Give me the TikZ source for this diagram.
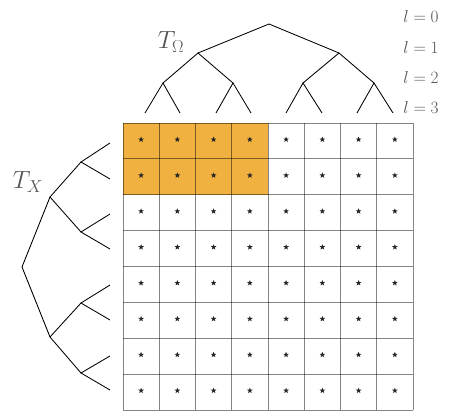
\documentclass[tikz,border=0pt]{standalone}
\usepackage{xcolor}
\usetikzlibrary{shapes.geometric}
\definecolor{gridorange}{RGB}{240,177,64}
\definecolor{labelgray}{RGB}{85,85,85}
\begin{document}
\begin{tikzpicture}[x=1pt,y=-1pt,
  tree/.style={line width=0.85pt, black},
  gridline/.style={line width=0.9pt, draw=black, draw opacity=0.48},
  starnode/.style={star, star points=5, star point ratio=2.4, fill=black!85, draw=none, inner sep=0pt, minimum size=6pt},
  biglbl/.style={text=labelgray, inner sep=0pt, font=\fontsize{24}{24}\selectfont},
  lvl/.style={text=labelgray, inner sep=0pt, font=\fontsize{16}{16}\selectfont}]
\useasboundingbox (0,0) rectangle (449,412);
% orange block
\fill[gridorange] (123,123) rectangle (268,194.75);
% grid
\foreach \i in {0,...,8} {
  \draw[gridline] ({123+\i*36.25},123) -- ({123+\i*36.25},410);
  \draw[gridline] (123,{123+\i*35.875}) -- (413,{123+\i*35.875});
}
% stars
\foreach \c in {0,...,7} {
  \foreach \r in {0,...,7} {
    \node[starnode] (s\c\r) at ({141.1+\c*36.25},{139.5+\r*35.875}) {};
  }
}
% top tree T_Omega
\coordinate (o) at (269,24);
\coordinate (o0) at (198,53);
\coordinate (o1) at (339,53);
\coordinate (o00) at (163,83);
\coordinate (o01) at (233,83);
\coordinate (o10) at (303,83);
\coordinate (o11) at (374,83);
\coordinate (o000) at (145,113);
\coordinate (o001) at (180,113);
\coordinate (o010) at (216,113);
\coordinate (o011) at (251,113);
\coordinate (o100) at (286,113);
\coordinate (o101) at (322,113);
\coordinate (o110) at (357,113);
\coordinate (o111) at (393,113);
\draw[tree] (o0) -- (o) -- (o1);
\draw[tree] (o00) -- (o0) -- (o01);
\draw[tree] (o10) -- (o1) -- (o11);
\draw[tree] (o000) -- (o00) -- (o001);
\draw[tree] (o010) -- (o01) -- (o011);
\draw[tree] (o100) -- (o10) -- (o101);
\draw[tree] (o110) -- (o11) -- (o111);
% left tree T_X
\coordinate (x) at (22,267);
\coordinate (x0) at (50,197);
\coordinate (x1) at (50,337);
\coordinate (x00) at (81,162);
\coordinate (x01) at (81,232);
\coordinate (x10) at (81,303);
\coordinate (x11) at (81,373);
\coordinate (x000) at (110,143);
\coordinate (x001) at (110,179);
\coordinate (x010) at (110,214);
\coordinate (x011) at (110,249);
\coordinate (x100) at (110,285);
\coordinate (x101) at (110,320);
\coordinate (x110) at (110,356);
\coordinate (x111) at (110,390);
\draw[tree] (x0) -- (x) -- (x1);
\draw[tree] (x00) -- (x0) -- (x01);
\draw[tree] (x10) -- (x1) -- (x11);
\draw[tree] (x000) -- (x00) -- (x001);
\draw[tree] (x010) -- (x01) -- (x011);
\draw[tree] (x100) -- (x10) -- (x101);
\draw[tree] (x110) -- (x11) -- (x111);
% labels
\node[biglbl] (tomega) at (171,42) {$T_\Omega$};
\node[biglbl] (tx) at (28,182) {$T_X$};
\node[lvl] (l0) at (421,17) {$l=0$};
\node[lvl] (l1) at (421,47) {$l=1$};
\node[lvl] (l2) at (421,77) {$l=2$};
\node[lvl] (l3) at (421,107) {$l=3$};
\end{tikzpicture}
\end{document}
